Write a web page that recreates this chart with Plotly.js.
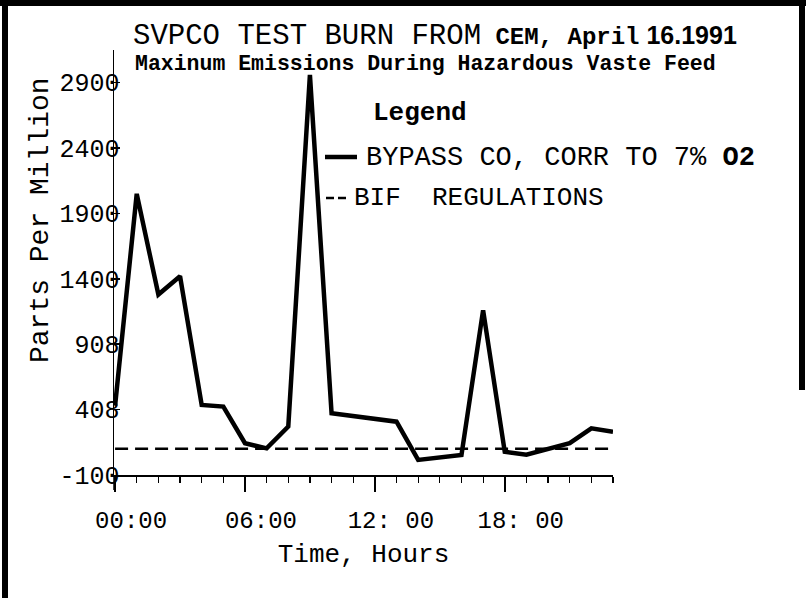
<!DOCTYPE html>
<html><head><meta charset="utf-8">
<script src="https://cdn.plot.ly/plotly-3.0.1.min.js"></script>
<style>html,body{margin:0;padding:0;background:#fff}#chart{width:806px;height:598px}</style>
</head><body><div id="chart"></div>
<script>
// ---- data ----
const hours = [0, 1, 2, 3, 4, 5, 6, 7, 8, 9, 10, 13, 14, 16, 17, 18, 19, 21, 22, 23];
const coPpm = [430, 2050, 1280, 1420, 436, 423, 143, 104, 270, 2960, 372, 308, 15, 53, 1160, 78, 55, 143, 257, 231];
const bifHours = [0, 23];
const bifPpm = [100, 100];
const seriesNames = ['BYPASS CO, CORR TO 7% O2', 'BIF  REGULATIONS'];
const yTickVals = [-100, 400, 900, 1400, 1900, 2400, 2900];
const yTickText = ['-100', '408', '908', '1400', '1900', '2400', '2900'];
const xTickVals = [0, 6, 12, 18];
const xTickText = ['00:00', '06:00', '12: 00', '18: 00'];

// ---- layout geometry ----
const W = 806, H = 598, L = 114, R = 193, T = 50, B = 123;
const pw = W - L - R, ph = H - T - B;
const px = x => (x - L) / pw;
const py = y => (H - B - y) / ph;
const MONO = 'Liberation Mono, Courier New, monospace';

const traces = [
  {x: hours, y: coPpm, type: 'scatter', mode: 'lines', name: seriesNames[0],
   line: {color: '#000', width: 4.5}, showlegend: false, hoverinfo: 'skip'},
  {x: bifHours, y: bifPpm, type: 'scatter', mode: 'lines', name: seriesNames[1],
   line: {color: '#000', width: 2.5, dash: '13px,7px'}, showlegend: false, hoverinfo: 'skip'}
];

const shapes = [
  // page border (scan frame)
  {type: 'line', xref: 'paper', yref: 'paper', x0: px(5), x1: px(5), y0: py(0), y1: py(598), line: {color: '#000', width: 6}},
  {type: 'line', xref: 'paper', yref: 'paper', x0: px(0), x1: px(806), y0: py(3), y1: py(3), line: {color: '#000', width: 6}},
  {type: 'line', xref: 'paper', yref: 'paper', x0: px(802), x1: px(802), y0: py(0), y1: py(390), line: {color: '#000', width: 6}},
  // y axis extension below the x axis
  {type: 'line', xref: 'paper', yref: 'paper', x0: 0, x1: 0, y0: 0, y1: py(490), line: {color: '#000', width: 1.5}},
  // legend keys
  {type: 'line', xref: 'paper', yref: 'paper', x0: px(325), x1: px(357), y0: py(157), y1: py(157), line: {color: '#000', width: 4.5}},
  {type: 'line', xref: 'paper', yref: 'paper', x0: px(326), x1: px(334), y0: py(198), y1: py(198), line: {color: '#000', width: 2.5}},
  {type: 'line', xref: 'paper', yref: 'paper', x0: px(338), x1: px(346), y0: py(198), y1: py(198), line: {color: '#000', width: 2.5}}
];

const annotations = [
  {text: '<b>Maxinum Emissions During Hazardous Vaste Feed</b>', xref: 'paper', yref: 'paper',
   x: px(133), y: py(64), xanchor: 'left', yanchor: 'middle', showarrow: false,
   font: {family: MONO, size: 21.5, color: '#000'}},
  {text: 'Parts Per Million', xref: 'paper', yref: 'paper', x: px(40), y: py(220), textangle: -90,
   xanchor: 'center', yanchor: 'middle', showarrow: false, font: {family: MONO, size: 28, color: '#000'}},
  {text: '<b>Legend</b>', xref: 'paper', yref: 'paper', x: px(371), y: py(113),
   xanchor: 'left', yanchor: 'middle', showarrow: false, font: {family: MONO, size: 26, color: '#000'}},
  {text: 'BYPASS CO, CORR TO 7% <b>O2</b>', xref: 'paper', yref: 'paper', x: px(364), y: py(158),
   xanchor: 'left', yanchor: 'middle', showarrow: false, font: {family: MONO, size: 27, color: '#000'}},
  {text: seriesNames[1], xref: 'paper', yref: 'paper', x: px(352), y: py(198),
   xanchor: 'left', yanchor: 'middle', showarrow: false, font: {family: MONO, size: 26, color: '#000'}}
];

const layout = {
  width: W, height: H,
  margin: {l: L, r: R, t: T, b: B, pad: 0},
  paper_bgcolor: '#fff', plot_bgcolor: '#fff',
  showlegend: false,
  title: {
    text: 'SVPCO TEST BURN FROM<span style="font-weight:bold;font-size:24px"> CEM, April</span><span style="font-family:Liberation Sans;font-weight:bold;font-size:25px"> 16.1991</span>',
    font: {family: MONO, size: 29, color: '#000'},
    xref: 'container', yref: 'container', x: 133 / W, xanchor: 'left', y: 1 - 34 / H, yanchor: 'middle'
  },
  xaxis: {
    range: [-0.05, 23], showgrid: false, zeroline: false,
    showline: true, linecolor: '#000', linewidth: 1.5,
    tickmode: 'array', tickvals: xTickVals, ticktext: xTickText,
    ticks: 'outside', ticklen: 15, tickwidth: 1.5, tickcolor: '#000',
    minor: {tickmode: 'linear', tick0: 0, dtick: 1, ticks: 'outside', ticklen: 6, tickwidth: 1.2, tickcolor: '#000'},
    tickfont: {family: MONO, size: 24, color: '#000'},
    ticklabelshift: 16, ticklabelstandoff: 8,
    title: {text: 'Time, Hours', font: {family: MONO, size: 26, color: '#000'}, standoff: 9},
    automargin: false, fixedrange: true
  },
  yaxis: {
    range: [-100, 3150], showgrid: false, zeroline: false,
    showline: true, linecolor: '#000', linewidth: 1.5,
    tickmode: 'array', tickvals: yTickVals, ticktext: yTickText,
    ticks: 'inside', ticklen: 6, tickwidth: 1.5, tickcolor: '#000',
    tickfont: {family: MONO, size: 25, color: '#000'},
    ticklabelstandoff: -12,
    automargin: false, fixedrange: true
  },
  shapes: shapes,
  annotations: annotations
};

Plotly.newPlot('chart', traces, layout, {staticPlot: true, displayModeBar: false});
</script>
</body></html>
